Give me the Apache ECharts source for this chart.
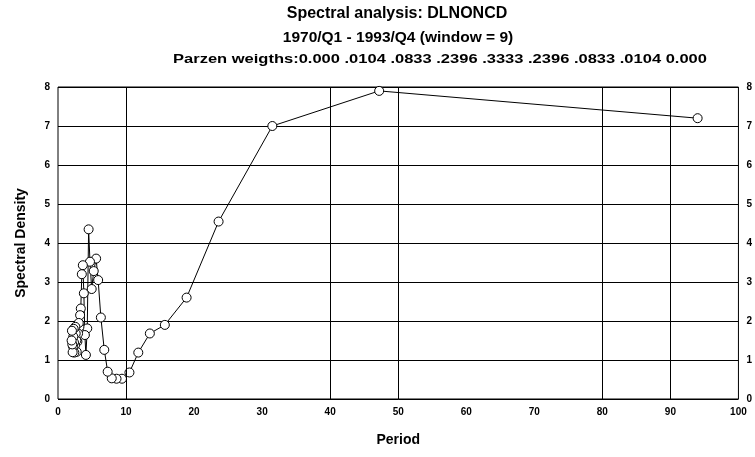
<!DOCTYPE html>
<html>
<head>
<meta charset="utf-8">
<script src="https://cdn.jsdelivr.net/npm/echarts@6/dist/echarts.min.js"></script>
<style>
  html, body { margin: 0; padding: 0; background: #fff; }
  #chart { width: 755px; height: 457px; }
</style>
</head>
<body>
<div id="chart"></div>
<script>
// periods (x) and spectral density (y)
const periods = [94.0, 47.2, 31.5, 23.6, 18.9, 15.7, 13.5, 11.8, 10.5, 9.4, 8.6, 7.9, 7.3, 6.8, 6.3,
  5.9, 5.6, 5.25, 4.95, 4.7, 4.5, 4.3, 4.1, 3.95, 3.8, 3.65, 3.5, 3.35, 3.25, 3.15, 3.05, 2.95,
  2.85, 2.75, 2.7, 2.6, 2.55, 2.5, 2.4, 2.35, 2.3, 2.25, 2.2, 2.15, 2.1, 2.05, 2.0]
const density = [7.2, 7.9, 7.0, 4.55, 2.6, 1.9, 1.68, 1.19, 0.68, 0.52, 0.52, 0.53, 0.7, 1.26, 2.09,
  3.05, 3.6, 3.28, 2.82, 3.52, 4.35, 1.81, 1.13, 1.64, 2.71, 3.43, 3.2, 2.32, 2.15, 1.85, 1.95, 1.68,
  1.47, 1.21, 1.5, 1.68, 1.85, 1.38, 1.19, 1.45, 1.8, 1.6, 1.35, 1.2, 1.4, 1.75, 1.5]
// vertical grid lines that show in the picture
const vLines = [10, 40, 50, 80, 90]
const titles = [
  'Spectral analysis: DLNONCD',
  '1970/Q1 - 1993/Q4 (window = 9)',
  'Parzen weigths:0.000 .0104 .0833 .2396 .3333 .2396 .0833 .0104 0.000'
]

const chart = echarts.init(document.getElementById('chart'))
const font = 'Liberation Sans, Arial, sans-serif'
const labelStyle = { color: '#000', fontFamily: font, fontWeight: 'bold', fontSize: 10 }

const titleText = (text, x, y, size, sx) => ({
  type: 'text',
  x: x,
  y: y,
  scaleX: sx,
  style: {
    text: text,
    fill: '#000',
    font: `bold ${size}px ${font}`,
    align: 'center',
    verticalAlign: 'middle'
  }
})

const yAxisBase = {
  type: 'value',
  min: 0,
  max: 8,
  interval: 1,
  axisLine: { show: false },
  axisTick: { show: false },
  axisLabel: Object.assign({ margin: 8 }, labelStyle)
}

chart.setOption({
  animation: false,
  graphic: [
    titleText(titles[0], 397, 14, 16, 1),
    titleText(titles[1], 398, 38, 15.5, 1),
    titleText(titles[2], 440, 60, 12.5, 1.32)
  ],
  grid: { left: 58, right: 15, top: 87, bottom: 58, show: true, borderColor: '#000', borderWidth: 1 },
  xAxis: {
    type: 'value',
    min: 0,
    max: 100,
    interval: 10,
    name: 'Period',
    nameLocation: 'middle',
    nameGap: 34,
    nameTextStyle: { color: '#000', fontFamily: font, fontWeight: 'bold', fontSize: 14 },
    axisLine: { show: false },
    axisTick: { show: false },
    splitLine: { show: false },
    axisLabel: Object.assign({ margin: 8 }, labelStyle)
  },
  yAxis: [
    Object.assign({}, yAxisBase, {
      name: 'Spectral Density',
      nameLocation: 'middle',
      nameGap: 30,
      nameTextStyle: { color: '#000', fontFamily: font, fontWeight: 'bold', fontSize: 14 },
      splitLine: { show: true, lineStyle: { color: '#000', width: 1 } }
    }),
    Object.assign({}, yAxisBase, { position: 'right', splitLine: { show: false } })
  ],
  series: [{
    type: 'line',
    data: periods.map((p, i) => [p, density[i]]),
    symbol: 'circle',
    symbolSize: 9,
    showAllSymbol: true,
    lineStyle: { color: '#000', width: 1 },
    itemStyle: { color: '#fff', borderColor: '#000', borderWidth: 1 },
    markLine: {
      silent: true,
      symbol: 'none',
      label: { show: false },
      lineStyle: { color: '#000', width: 1, type: 'solid' },
      data: vLines.map(v => ({ xAxis: v }))
    },
    z: 3
  }]
})
</script>
</body>
</html>
